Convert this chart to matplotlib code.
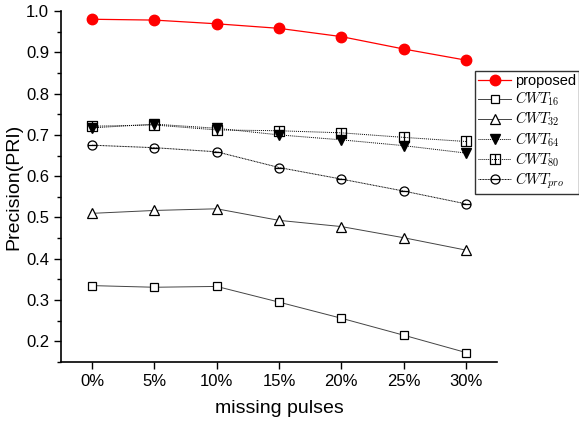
import matplotlib
matplotlib.use("Agg")
import matplotlib.pyplot as plt
import numpy as np
from matplotlib.path import Path

plt.rcParams['font.family'] = ['Liberation Sans', 'DejaVu Sans']
plt.rcParams['mathtext.fontset'] = 'cm'

categories = ['0%', '5%', '10%', '15%', '20%', '25%', '30%']
proposed = [0.980, 0.978, 0.969, 0.958, 0.938, 0.908, 0.881]
cwt16 = [0.335, 0.331, 0.333, 0.295, 0.256, 0.215, 0.173]
cwt32 = [0.510, 0.517, 0.521, 0.493, 0.478, 0.451, 0.421]
cwt64 = [0.717, 0.726, 0.716, 0.700, 0.688, 0.674, 0.656]
cwt80 = [0.721, 0.724, 0.712, 0.710, 0.705, 0.694, 0.684]
cwtpro = [0.675, 0.669, 0.659, 0.621, 0.593, 0.564, 0.533]

# custom markers
sq = [(-1, -1), (1, -1), (1, 1), (-1, 1), (-1, -1), (0, -1), (0, 1)]
sq_codes = [Path.MOVETO, Path.LINETO, Path.LINETO, Path.LINETO, Path.CLOSEPOLY, Path.MOVETO, Path.LINETO]
square_bar = Path(sq, sq_codes)
circ = Path.unit_circle()
hline = Path([(-1, 0), (1, 0)], [Path.MOVETO, Path.LINETO])
circle_bar = Path.make_compound_path(circ, hline)

fig = plt.figure(figsize=(5.79, 4.22), dpi=100)
ax = fig.add_axes([61/579, 1-362/422, (497-61)/579, (362-11)/422])
x = np.arange(len(categories))

ax.plot(x, proposed, color='red', lw=0.9, marker='o', ms=7.5, mfc='red', mec='red', label='proposed', zorder=5)
ax.plot(x, cwt16, color='#444444', lw=0.7, marker='s', ms=6, mfc='white', mec='black', mew=0.9, label='$CWT_{16}$')
ax.plot(x, cwt32, color='#444444', lw=0.7, marker='^', ms=7.5, mfc='white', mec='black', mew=0.9, label='$CWT_{32}$')
ax.plot(x, cwt64, color='black', lw=0.7, ls=(0, (1, 1)), marker='v', ms=7.5, mfc='black', mec='black', label='$CWT_{64}$')
ax.plot(x, cwt80, color='black', lw=0.7, ls=(0, (1, 1)), marker=square_bar, ms=6.5, mfc='none', mec='black', mew=0.9, label='$CWT_{80}$')
ax.plot(x, cwtpro, color='black', lw=0.7, ls=(0, (1, 0.6)), marker=circle_bar, ms=6.5, mfc='none', mec='black', mew=0.9, label='$CWT_{pro}$')

ax.set_xlim(-0.5, 6.5)
ax.set_ylim(0.15, 1.0)
ax.set_xticks(x)
ax.set_xticklabels(categories)
ax.set_yticks(np.arange(0.2, 1.01, 0.1))
ax.set_yticklabels(['%.1f' % v for v in np.arange(0.2, 1.01, 0.1)])
ax.set_yticks(np.arange(0.15, 1.0, 0.1), minor=True)
ax.tick_params(axis='both', which='major', direction='out', length=5, width=1, labelsize=12)
ax.tick_params(axis='y', which='minor', direction='out', length=3, width=1)
ax.spines['top'].set_visible(False)
ax.spines['right'].set_visible(False)
ax.spines['left'].set_linewidth(1.2)
ax.spines['bottom'].set_linewidth(1.2)
ax.set_xlabel('missing pulses', fontsize=14, labelpad=8)
ax.set_ylabel('Precision(PRI)', fontsize=14, labelpad=3)

leg = fig.legend(loc='upper left', bbox_to_anchor=(475/579, 1-71/422), borderaxespad=0,
                 fontsize=10.5, frameon=True, fancybox=False, edgecolor='black',
                 handlelength=2.3, handletextpad=0.25, labelspacing=0.12, borderpad=0.2)
leg.get_frame().set_linewidth(1.0)

fig.savefig('out.png', dpi=100)
